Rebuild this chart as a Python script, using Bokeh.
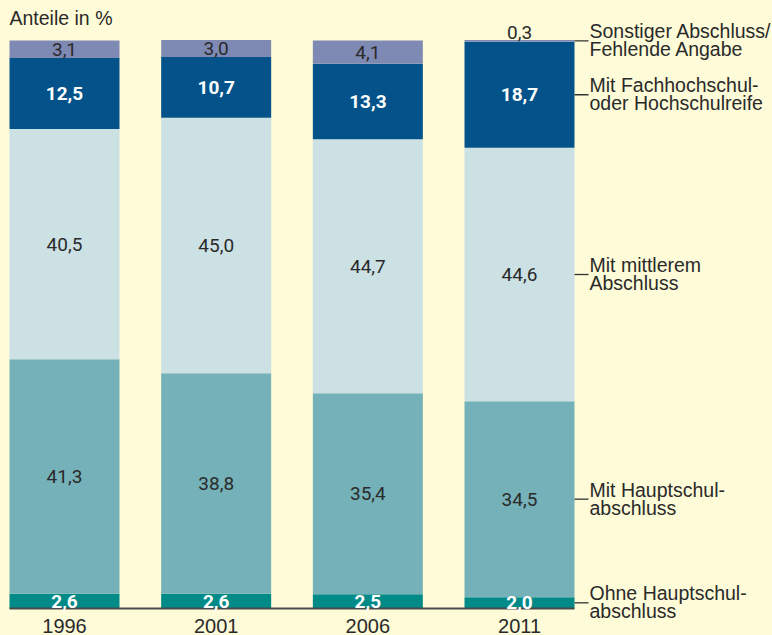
from bokeh.plotting import figure
from bokeh.models import Range1d, ColumnDataSource, Label
from bokeh.embed import file_html
from bokeh.resources import INLINE
from bokeh.core.properties import value

# ---- data ----
years = ["1996", "2001", "2006", "2011"]
categories = ["Ohne Hauptschulabschluss", "Mit Hauptschulabschluss",
              "Mit mittlerem Abschluss", "Mit Fachhochschul- oder Hochschulreife",
              "Sonstiger Abschluss/Fehlende Angabe"]
legend_line1 = ["Ohne Hauptschul-", "Mit Hauptschul-", "Mit mittlerem",
                "Mit Fachhochschul-", "Sonstiger Abschluss/"]
legend_line2 = ["abschluss", "abschluss", "Abschluss",
                "oder Hochschulreife", "Fehlende Angabe"]
ohne = [2.6, 2.6, 2.5, 2.0]
haupt = [41.3, 38.8, 35.4, 34.5]
mittel = [40.5, 45.0, 44.7, 44.6]
hochschul = [12.5, 10.7, 13.3, 18.7]
sonstige = [3.1, 3.0, 4.1, 0.3]
series = [ohne, haupt, mittel, hochschul, sonstige]

# ---- style ----
BG = "#FEFBD8"
colors = ["#008A88", "#75B1B8", "#CCE1E4", "#03538A", "#7E89B4"]
label_white = [True, False, False, True, False]
TXT = "#2a2a2a"
W, H = 772, 635
pitch = 151.67
x0px = 64
base_px = 608
pxpp = 5.68
bar_w = 110 / pitch

p = figure(width=W, height=H, output_backend="svg", toolbar_location=None,
           x_range=Range1d(-x0px / pitch, -x0px / pitch + W / pitch),
           y_range=Range1d(-(H - base_px) / pxpp, base_px / pxpp),
           min_border=0, background_fill_color=BG, border_fill_color=BG,
           outline_line_color=None)
p.axis.visible = False
p.grid.visible = False

xs = list(range(len(years)))
bottoms = [0.0] * len(years)
seg_info = []
for k, vals in enumerate(series):
    tops = [b + v for b, v in zip(bottoms, vals)]
    src = ColumnDataSource(dict(x=xs, bottom=bottoms, top=tops))
    p.vbar(x="x", bottom="bottom", top="top", width=bar_w, source=src,
           fill_color=colors[k], line_color=None)
    seg_info.append((list(bottoms), tops, vals))
    bottoms = tops

# baseline axis line
p.segment(x0=[xs[0] - bar_w / 2], y0=[0], x1=[xs[-1] + bar_w / 2], y1=[0],
          line_color="#4a4a4a", line_width=2)

# value labels
fmt = lambda v: f"{v:.1f}".replace(".", ",")
for k, (bots, tops, vals) in enumerate(seg_info):
    inside = dict(x=[], y=[], t=[])
    above = dict(x=[], y=[], t=[])
    for i in xs:
        if vals[i] >= 1.5:
            inside["x"].append(i); inside["y"].append((bots[i] + tops[i]) / 2)
            inside["t"].append(fmt(vals[i]))
        else:
            above["x"].append(i); above["y"].append(tops[i])
            above["t"].append(fmt(vals[i]))
    if inside["x"]:
        p.text(x="x", y="y", text="t", source=ColumnDataSource(inside),
               text_align="center", text_baseline="middle",
               text_font=value("Roboto"), text_font_size="19px",
               text_font_style="bold" if label_white[k] else "normal",
               text_color="white" if label_white[k] else TXT)
    if above["x"]:
        p.text(x="x", y="y", text="t", source=ColumnDataSource(above),
               text_align="center", text_baseline="alphabetic", y_offset=-7,
               text_font=value("Roboto"), text_font_size="19px",
               text_color=TXT)

# year labels
p.text(x=xs, y=[0] * len(xs), text=years, text_align="center",
       text_baseline="alphabetic", y_offset=17,
       text_font=value("Liberation Sans"), text_font_size="20px", text_color=TXT)

# category labels with leader lines at last bar
last = xs[-1]
right_edge = last + bar_w / 2
mids = [(b[last] + t[last]) / 2 for b, t, v in seg_info]
p.segment(x0=[right_edge] * len(mids), y0=mids,
          x1=[right_edge + 14 / pitch] * len(mids), y1=mids,
          line_color="#333333", line_width=1.3)
p.text(x=[right_edge] * len(mids), y=mids, text=legend_line1, x_offset=15,
       y_offset=-9.5, text_baseline="alphabetic", text_align="left",
       text_font=value("Liberation Sans"), text_font_size="19.5px", text_color=TXT)
p.text(x=[right_edge] * len(mids), y=mids, text=legend_line2, x_offset=15,
       y_offset=8.5, text_baseline="alphabetic", text_align="left",
       text_font=value("Liberation Sans"), text_font_size="19.5px", text_color=TXT)

# header
p.add_layout(Label(x=9, y=H - 17, x_units="screen", y_units="screen",
                   text="Anteile in %", text_baseline="alphabetic",
                   text_font="Liberation Sans", text_font_size="19.5px",
                   text_color=TXT))

html = file_html(p, INLINE)
html = html.replace("</head>",
                    "<style>html,body{margin:0;padding:0;overflow:hidden;background:%s}</style></head>" % BG)
open("out.html", "w").write(html)
